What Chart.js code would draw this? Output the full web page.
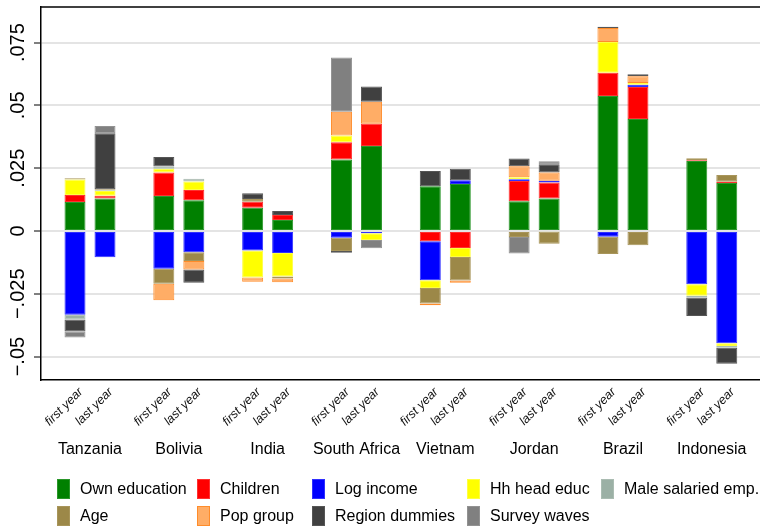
<!DOCTYPE html>
<html>
<head>
<meta charset="utf-8">
<script src="https://cdn.jsdelivr.net/npm/chart.js@4/dist/chart.umd.min.js"></script>
<style>
  html, body { margin: 0; padding: 0; background: #fff; }
  #wrap { width: 760px; height: 526px; position: relative; }
</style>
</head>
<body>
<div id="wrap"><canvas id="c" width="760" height="526"></canvas></div>
<script>
// Decomposition of the change in school enrolment, by country and survey year
const COUNTRIES = ['Tanzania', 'Bolivia', 'India', 'South Africa', 'Vietnam', 'Jordan', 'Brazil', 'Indonesia'];
const PERIODS = ['first year', 'last year'];
const Y_TICKS = [-0.05, -0.025, 0, 0.025, 0.05, 0.075];

const SERIES = ['Own education', 'Children', 'Log income', 'Hh head educ', 'Male salaried emp.',
                'Age', 'Pop group', 'Region dummies', 'Survey waves'];

// values per country: [first year, last year], in COUNTRIES order
const ownEducation  = [0.0115, 0.0129, 0.0139, 0.0122, 0.0093, 0.0044, 0.0285, 0.0338,
                       0.0178, 0.0187, 0.0118, 0.0129, 0.0537, 0.0446, 0.0279, 0.0191];
const children      = [0.0028, 0.0011, 0.0094, 0.0041, 0.0023, 0.0020, 0.0068, 0.0089,
                       -0.0041, -0.0068, 0.0081, 0.0064, 0.0093, 0.0127, 0.0003, 0.0005];
const logIncome     = [-0.0333, -0.0105, -0.0150, -0.0085, -0.0078, -0.0088, -0.0027, -0.0009,
                       -0.0155, 0.0015, 0.0007, 0.0007, -0.0023, 0.0009, -0.0212, -0.0447];
const hhHeadEduc    = [0.0062, 0.0019, 0.0015, 0.0034, -0.0107, -0.0093, 0.0027, -0.0027,
                       -0.0031, -0.0036, 0.0008, -0.0003, 0.0122, 0.0007, -0.0046, -0.0011];
const maleSalaried  = [-0.0019, 0.0003, 0.0009, 0.0011, 0, 0, 0, 0,
                       0, 0, 0, 0, 0, 0, -0.0007, -0.0007];
const age           = [0.0005, 0.0004, -0.0060, -0.0034, 0.0011, -0.0008, -0.0053, 0,
                       -0.0062, -0.0093, -0.0024, -0.0048, -0.0069, -0.0057, 0.0008, 0.0027];
const popGroup      = [0, 0, -0.0066, -0.0034, -0.0017, -0.0015, 0.0095, 0.0088,
                       -0.0007, -0.0009, 0.0044, 0.0033, 0.0056, 0.0027, 0, 0];
const regionDummies = [-0.0048, 0.0223, 0.0038, -0.0053, 0.0023, 0.0016, -0.0007, 0.0060,
                       0.0061, 0.0046, 0.0031, 0.0033, 0.0005, 0.0008, -0.0073, -0.0064];
const surveyWaves   = [-0.0024, 0.0029, 0, 0, 0, 0, 0.0216, -0.0033,
                       0, 0, -0.0066, 0.0012, 0, 0, 0, 0];

const SERIES_VALUES = [ownEducation, children, logIncome, hhHeadEduc, maleSalaried,
                       age, popGroup, regionDummies, surveyWaves];

const FILLS   = ['#008000', '#ff0000', '#0000ff', '#ffff00', '#9bb0a5',
                 '#9c8848', '#ffad66', '#404040', '#808080'];
const BORDERS = ['#2a962a', '#ff3030', '#3030ff', '#ffff40', '#aabcb2',
                 '#a8955a', '#ff8c2a', '#555555', '#929292'];

const FONT = "'Liberation Sans', Arial, sans-serif";

// one dataset per series and period; the two periods form side-by-side stacks
const datasets = [];
SERIES.forEach((name, k) => {
  PERIODS.forEach((period, p) => {
    datasets.push({
      label: name,
      stack: period,
      data: COUNTRIES.map((c, i) => {
        const v = SERIES_VALUES[k][2 * i + p];
        return { x: i + 1, y: v === 0 ? null : v };
      }),
      backgroundColor: FILLS[k],
      borderColor: BORDERS[k],
      borderWidth: 1,
      borderSkipped: false
    });
  });
});

const fmtTick = v => {
  if (v === 0) return '0';
  const s = Math.abs(v).toString().replace(/^0/, '');
  return (v < 0 ? '\u2212' : '') + s;
};

// frame line along the top of the plot region
const framePlugin = {
  id: 'frame',
  afterDraw(chart) {
    const { ctx, chartArea } = chart;
    ctx.save();
    ctx.strokeStyle = '#000';
    ctx.lineWidth = 1.5;
    ctx.beginPath();
    ctx.moveTo(chartArea.left - 0.75, chartArea.top);
    ctx.lineTo(chart.width, chartArea.top);
    ctx.stroke();
    ctx.restore();
  }
};

// vertical value labels on the y axis
const yLabelPlugin = {
  id: 'yLabels',
  afterDraw(chart) {
    const { ctx } = chart;
    const y = chart.scales.y;
    ctx.save();
    ctx.fillStyle = '#000';
    ctx.font = '20px ' + FONT;
    ctx.textAlign = 'center';
    ctx.textBaseline = 'middle';
    Y_TICKS.forEach(v => {
      const py = y.getPixelForValue(v);
      ctx.save();
      ctx.translate(18, py);
      ctx.rotate(-Math.PI / 2);
      ctx.fillText(fmtTick(v), 0, 0);
      ctx.restore();
    });
    ctx.restore();
  }
};

// slanted period labels under each bar
const periodLabelPlugin = {
  id: 'periodLabels',
  afterDraw(chart) {
    const { ctx, chartArea } = chart;
    ctx.save();
    ctx.fillStyle = '#111';
    ctx.font = 'italic 12.5px ' + FONT;
    ctx.textAlign = 'right';
    ctx.textBaseline = 'middle';
    PERIODS.forEach((period, p) => {
      const meta = chart.getDatasetMeta(p);
      meta.data.forEach(bar => {
        ctx.save();
        ctx.translate(bar.x + 6, chartArea.bottom + 10);
        ctx.rotate(-Math.PI / 4);
        ctx.fillText(period, 0, 0);
        ctx.restore();
      });
    });
    ctx.restore();
  }
};

// legend laid out in five columns, two rows
const legendPlugin = {
  id: 'gridLegend',
  afterDraw(chart) {
    const { ctx } = chart;
    const colX = [57, 197, 312, 467, 601];
    const rowY = [489, 516];
    ctx.save();
    ctx.font = '16px ' + FONT;
    ctx.textBaseline = 'middle';
    ctx.textAlign = 'left';
    SERIES.forEach((name, k) => {
      const x = colX[k % 5];
      const y = rowY[Math.floor(k / 5)];
      ctx.fillStyle = FILLS[k];
      ctx.fillRect(x, y - 10, 13, 20);
      ctx.strokeStyle = BORDERS[k];
      ctx.lineWidth = 1;
      ctx.strokeRect(x + 0.5, y - 9.5, 12, 19);
      ctx.fillStyle = '#000';
      ctx.fillText(name, x + 23, y + 1);
    });
    ctx.restore();
  }
};

new Chart(document.getElementById('c'), {
  type: 'bar',
  data: { datasets },
  options: {
    responsive: false,
    animation: false,
    layout: { padding: { top: 7, right: 0, left: 0, bottom: 0 } },
    categoryPercentage: 0.6755,
    barPercentage: 0.7,
    plugins: {
      legend: { display: false },
      tooltip: { enabled: false }
    },
    scales: {
      x: {
        type: 'linear',
        offset: false,
        min: 0.4484,
        max: 8.543,
        afterBuildTicks: s => { s.ticks = COUNTRIES.map((c, i) => ({ value: i + 1 })); },
        afterFit: s => { s.height = 146; s.paddingLeft = 0; s.paddingRight = 0; },
        grid: { display: false, drawTicks: false },
        border: { display: true, color: '#000', width: 1.5 },
        ticks: {
          callback: v => COUNTRIES[Math.round(v) - 1] || '',
          font: { family: FONT, size: 16 },
          color: '#000',
          padding: 60,
          maxRotation: 0,
          autoSkip: false
        }
      },
      y: {
        stacked: true,
        min: -0.05932,
        max: 0.08917,
        afterBuildTicks: s => { s.ticks = Y_TICKS.map(v => ({ value: v })); },
        afterFit: s => { s.width = 41; s.paddingTop = 0; s.paddingBottom = 0; },
        grid: {
          color: '#e4e4e4',
          lineWidth: 2,
          drawTicks: true,
          tickLength: 7,
          tickColor: '#000',
          tickWidth: 1
        },
        border: { display: true, color: '#000', width: 1.5 },
        ticks: { display: false }
      }
    }
  },
  plugins: [framePlugin, yLabelPlugin, periodLabelPlugin, legendPlugin]
});
</script>
</body>
</html>
